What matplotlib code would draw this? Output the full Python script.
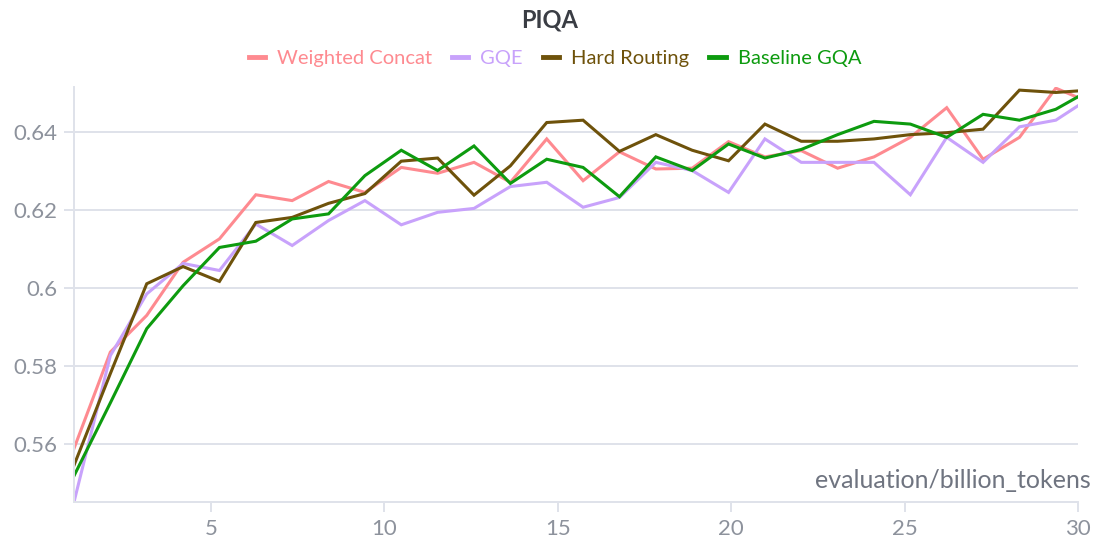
import matplotlib
matplotlib.use("Agg")
import matplotlib.pyplot as plt
import numpy as np

plt.rcParams['font.family'] = ['Lato', 'DejaVu Sans']

# x positions: evaluation every 1.048576 B tokens, final eval at 30
eval_step = 1.048576
n_evals = 28
final_tokens = 30.0
x = [eval_step * k for k in range(1, n_evals + 1)] + [final_tokens]

weighted_concat = [0.5588, 0.5835, 0.5929, 0.6065, 0.6125, 0.6238, 0.6223, 0.6272, 0.6244, 0.6308,
                   0.6293, 0.6321, 0.6270, 0.6381, 0.6274, 0.6348, 0.6304, 0.6306, 0.6374, 0.6335,
                   0.6351, 0.6306, 0.6335, 0.6385, 0.6461, 0.6329, 0.6385, 0.6511, 0.6487]
gqe = [0.5451, 0.5826, 0.5984, 0.6062, 0.6044, 0.6163, 0.6108, 0.6172, 0.6223, 0.6161,
       0.6193, 0.6203, 0.6259, 0.6270, 0.6206, 0.6231, 0.6321, 0.6300, 0.6244, 0.6381,
       0.6321, 0.6321, 0.6321, 0.6238, 0.6385, 0.6321, 0.6412, 0.6429, 0.6466]
hard_routing = [0.5545, 0.5780, 0.6010, 0.6054, 0.6016, 0.6167, 0.6180, 0.6216, 0.6241, 0.6324,
                0.6332, 0.6237, 0.6312, 0.6423, 0.6429, 0.6349, 0.6392, 0.6352, 0.6325, 0.6419,
                0.6375, 0.6375, 0.6381, 0.6392, 0.6397, 0.6406, 0.6506, 0.6500, 0.6504]
baseline_gqa = [0.5518, 0.5705, 0.5895, 0.6005, 0.6103, 0.6119, 0.6176, 0.6189, 0.6287, 0.6352,
                0.6300, 0.6363, 0.6267, 0.6329, 0.6308, 0.6233, 0.6335, 0.6300, 0.6368, 0.6332,
                0.6354, 0.6392, 0.6426, 0.6419, 0.6385, 0.6444, 0.6429, 0.6457, 0.6489]

series_names = ["Weighted Concat", "GQE", "Hard Routing", "Baseline GQA"]
series_values = [weighted_concat, gqe, hard_routing, baseline_gqa]
colors = ["#fe8a90", "#c8a2fb", "#6e520b", "#0d9b0f"]

x_ticks = [5, 10, 15, 20, 25, 30]
y_ticks = [0.56, 0.58, 0.60, 0.62, 0.64]
y_tick_labels = ["0.56", "0.58", "0.6", "0.62", "0.64"]

fig = plt.figure(figsize=(10.99, 5.48), dpi=100)
ax = fig.add_axes([74 / 1099, 46 / 548, (1078 - 74) / 1099, (502 - 87) / 548])

lines = []
for name, vals, c in zip(series_names, series_values, colors):
    ln, = ax.plot(x, vals, color=c, lw=2.2, label=name, solid_joinstyle='miter')
    lines.append(ln)

allv = np.concatenate([np.array(v) for v in series_values])
ax.set_xlim(x[0], x[-1])
ax.set_ylim(allv.min(), allv.max() + 0.0003)

grid_c = "#dfe2ea"
tick_c = "#8d929c"
ax.set_yticks(y_ticks)
ax.set_yticklabels(y_tick_labels)
ax.set_xticks(x_ticks)
ax.grid(axis='y', color=grid_c, lw=1.4)
ax.set_axisbelow(True)
for s in ['top', 'right']:
    ax.spines[s].set_visible(False)
for s in ['left', 'bottom']:
    ax.spines[s].set_color(grid_c)
    ax.spines[s].set_linewidth(1.4)
ax.tick_params(axis='both', colors=grid_c, labelcolor=tick_c, labelsize=16,
               length=7, width=1.4)
ax.tick_params(axis='y', pad=5)
ax.tick_params(axis='x', pad=5)

ax.text(1.013, 0.053, "evaluation/billion_tokens", transform=ax.transAxes,
        ha='right', va='center', fontsize=18, color="#6f7480")

fig.text(0.5, 1 - 20 / 548, "PIQA", ha='center', va='center', fontsize=17,
         fontweight='bold', color="#3a3d44")

leg = fig.legend(handles=lines, loc='center', bbox_to_anchor=(0.505, 1 - 58 / 548),
                 ncol=4, frameon=False, fontsize=14.5, handlelength=0.8,
                 handletextpad=0.6, columnspacing=1.0)
for txt, c in zip(leg.get_texts(), colors):
    txt.set_color(c)
for h in leg.legend_handles:
    h.set_linewidth(3.5)

fig.savefig("out.png", dpi=100)
